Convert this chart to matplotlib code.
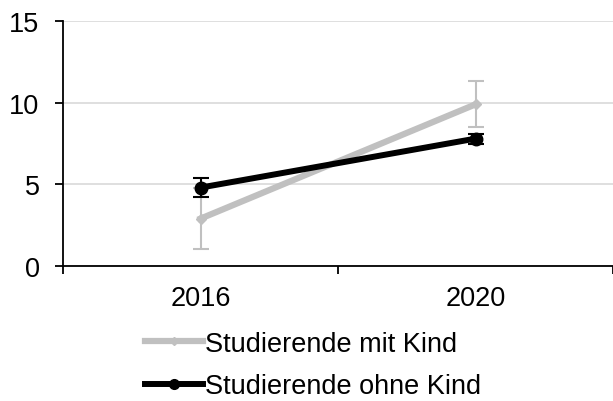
import matplotlib.pyplot as plt
from matplotlib.lines import Line2D

years = ["2016", "2020"]
mit_kind = [2.9, 9.9]
mit_kind_err = [1.85, 1.4]
ohne_kind = [4.8, 7.8]
ohne_kind_err = [0.6, 0.3]

plt.rcParams['font.family'] = ['Liberation Sans', 'DejaVu Sans']

GRAY = '#c0c0c0'
FS = 19.5

fig = plt.figure(figsize=(6.13, 4.02), dpi=100)
ax = fig.add_axes([0.103, 0.336, 0.897, 0.609])

x = [0.5, 1.5]
# error bars first, then the lines on top
ax.errorbar(x, mit_kind, yerr=mit_kind_err, fmt='none', ecolor=GRAY,
            elinewidth=1.5, capsize=6, capthick=1.5, zorder=3)
ax.plot(x, mit_kind, color=GRAY, lw=4.5, marker='D', ms=5, zorder=3)
ax.errorbar(x, ohne_kind, yerr=ohne_kind_err, fmt='none', ecolor='black',
            elinewidth=1.5, capsize=6, capthick=1.5, zorder=4)
ax.plot(x, ohne_kind, color='black', lw=4.3, marker='o', ms=9, zorder=4)

ax.set_xlim(0, 2)
ax.set_ylim(0, 15)
ax.set_yticks([0, 5, 10, 15])
ax.set_xticks([0, 1, 2])
ax.set_xticklabels([])
ax.set_xticks(x, minor=True)
ax.set_xticklabels(years, minor=True)
ax.tick_params(axis='x', which='minor', length=0, pad=14, labelsize=FS)
ax.tick_params(axis='x', which='major', length=6, width=1.3, direction='out')
ax.tick_params(axis='y', length=6, width=1.3, labelsize=FS, pad=11)
ax.yaxis.grid(True, color='#d9d9d9', lw=1.2)
ax.set_axisbelow(True)
for s in ['top', 'right']:
    ax.spines[s].set_visible(False)
ax.spines['left'].set_linewidth(1.3)
ax.spines['bottom'].set_linewidth(1.3)

handles = [
    Line2D([], [], color=GRAY, lw=4.5, marker='D', ms=4),
    Line2D([], [], color='black', lw=4.3, marker='o', ms=7),
]
labels = ['Studierende mit Kind', 'Studierende ohne Kind']
fig.legend(handles, labels, loc='upper left', bbox_to_anchor=(0.236, 0.175),
           frameon=False, fontsize=FS, handlelength=2.15, handletextpad=0.08,
           labelspacing=0.62, borderaxespad=0, borderpad=0)

fig.savefig('out.png', dpi=100)
